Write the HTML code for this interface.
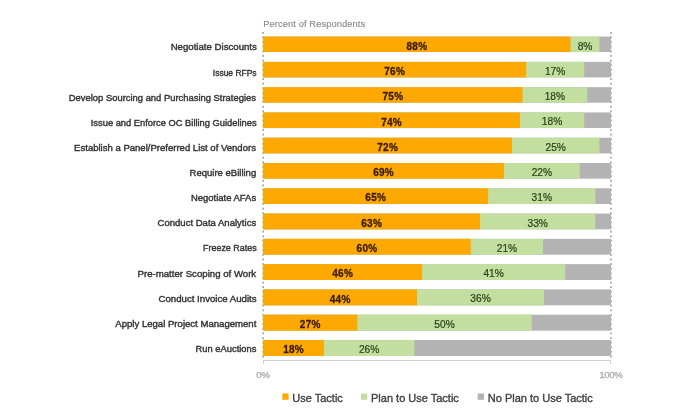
<!DOCTYPE html>
<html><head><meta charset="utf-8"><style>
html,body{margin:0;padding:0;background:#fff;}
body{width:692px;height:417px;position:relative;overflow:hidden;font-family:"Liberation Sans",sans-serif;}
#w{position:absolute;left:0;top:0;width:692px;height:417px;filter:blur(0.60px);}
.a{position:absolute;white-space:nowrap;}
svg{position:absolute;left:0;top:0;}
.lbl{position:absolute;white-space:nowrap;color:#333;-webkit-text-stroke:0.4px #333;font-size:9.60px;line-height:9.60px;transform-origin:100% 50%;text-align:right;}
.vb{position:absolute;white-space:nowrap;font-weight:bold;letter-spacing:0.3px;color:#3a1d00;-webkit-text-stroke:0.3px #3a1d00;font-size:10.00px;line-height:10.00px;text-align:center;width:60px;}
.vr{position:absolute;white-space:nowrap;color:#26421a;-webkit-text-stroke:0.2px #26421a;font-size:10.20px;line-height:10.20px;text-align:center;width:60px;}
.lg{position:absolute;white-space:nowrap;color:#404040;-webkit-text-stroke:0.35px #404040;font-size:11px;line-height:11px;}
</style></head><body><div id="w">

<svg width="692" height="417">
<line x1="263.1" y1="31.95" x2="263.1" y2="360" stroke="#6f6f6f" stroke-width="1.1" stroke-dasharray="1.7,2.925"/>
<line x1="611.0" y1="31.95" x2="611.0" y2="360" stroke="#6f6f6f" stroke-width="1.1" stroke-dasharray="1.7,2.925"/>
<rect x="263.00" y="36.60" width="348.00" height="15.45" fill="#B3B3B3"/>
<rect x="263.00" y="36.60" width="336.40" height="15.45" fill="#C3DFA0"/>
<rect x="263.00" y="36.60" width="307.60" height="15.45" fill="#FEA802"/>
<rect x="263.00" y="61.88" width="348.00" height="15.50" fill="#B3B3B3"/>
<rect x="263.00" y="61.88" width="321.20" height="15.50" fill="#C3DFA0"/>
<rect x="263.00" y="61.88" width="263.10" height="15.50" fill="#FEA802"/>
<rect x="263.00" y="87.16" width="348.00" height="15.55" fill="#B3B3B3"/>
<rect x="263.00" y="87.16" width="324.20" height="15.55" fill="#C3DFA0"/>
<rect x="263.00" y="87.16" width="259.50" height="15.55" fill="#FEA802"/>
<rect x="263.00" y="112.44" width="348.00" height="15.60" fill="#B3B3B3"/>
<rect x="263.00" y="112.44" width="321.20" height="15.60" fill="#C3DFA0"/>
<rect x="263.00" y="112.44" width="256.90" height="15.60" fill="#FEA802"/>
<rect x="263.00" y="137.72" width="348.00" height="15.65" fill="#B3B3B3"/>
<rect x="263.00" y="137.72" width="336.40" height="15.65" fill="#C3DFA0"/>
<rect x="263.00" y="137.72" width="249.00" height="15.65" fill="#FEA802"/>
<rect x="263.00" y="163.00" width="348.00" height="15.70" fill="#B3B3B3"/>
<rect x="263.00" y="163.00" width="316.80" height="15.70" fill="#C3DFA0"/>
<rect x="263.00" y="163.00" width="240.90" height="15.70" fill="#FEA802"/>
<rect x="263.00" y="188.28" width="348.00" height="15.75" fill="#B3B3B3"/>
<rect x="263.00" y="188.28" width="332.30" height="15.75" fill="#C3DFA0"/>
<rect x="263.00" y="188.28" width="225.20" height="15.75" fill="#FEA802"/>
<rect x="263.00" y="213.56" width="348.00" height="15.80" fill="#B3B3B3"/>
<rect x="263.00" y="213.56" width="332.30" height="15.80" fill="#C3DFA0"/>
<rect x="263.00" y="213.56" width="217.10" height="15.80" fill="#FEA802"/>
<rect x="263.00" y="238.84" width="348.00" height="15.85" fill="#B3B3B3"/>
<rect x="263.00" y="238.84" width="280.10" height="15.85" fill="#C3DFA0"/>
<rect x="263.00" y="238.84" width="207.80" height="15.85" fill="#FEA802"/>
<rect x="263.00" y="264.12" width="348.00" height="15.90" fill="#B3B3B3"/>
<rect x="263.00" y="264.12" width="302.20" height="15.90" fill="#C3DFA0"/>
<rect x="263.00" y="264.12" width="159.10" height="15.90" fill="#FEA802"/>
<rect x="263.00" y="289.40" width="348.00" height="15.95" fill="#B3B3B3"/>
<rect x="263.00" y="289.40" width="281.00" height="15.95" fill="#C3DFA0"/>
<rect x="263.00" y="289.40" width="154.00" height="15.95" fill="#FEA802"/>
<rect x="263.00" y="314.68" width="348.00" height="16.00" fill="#B3B3B3"/>
<rect x="263.00" y="314.68" width="268.80" height="16.00" fill="#C3DFA0"/>
<rect x="263.00" y="314.68" width="94.30" height="16.00" fill="#FEA802"/>
<rect x="263.00" y="339.96" width="348.00" height="16.05" fill="#B3B3B3"/>
<rect x="263.00" y="339.96" width="151.30" height="16.05" fill="#C3DFA0"/>
<rect x="263.00" y="339.96" width="60.90" height="16.05" fill="#FEA802"/>
<rect x="282.3" y="393.5" width="6.3" height="6.3" fill="#FEA802"/>
<rect x="361.0" y="393.5" width="6.3" height="6.3" fill="#C3DFA0"/>
<rect x="477.7" y="393.5" width="6.3" height="6.3" fill="#B3B3B3"/>
<line x1="263" y1="360.5" x2="611" y2="360.5" stroke="#d0d0d0" stroke-width="1"/>
<line x1="263.5" y1="360" x2="263.5" y2="364" stroke="#d0d0d0" stroke-width="1"/>
<line x1="610.5" y1="360" x2="610.5" y2="364" stroke="#d0d0d0" stroke-width="1"/>
</svg>
<div class="a" style="left:263.3px;top:19.53px;font-size:9.3px;line-height:9.3px;letter-spacing:0.1px;color:#8c8c8c;-webkit-text-stroke:0.15px #8c8c8c;">Percent of Respondents</div>
<div class="lbl" style="right:435.60px;top:42.37px;transform:scaleX(1.004)">Negotiate Discounts</div>
<div class="vb" style="left:386.95px;top:41.73px">88%</div>
<div class="vr" style="left:555.00px;top:41.57px">8%</div>
<div class="lbl" style="right:435.60px;top:67.50px;transform:scaleX(0.883)">Issue RFPs</div>
<div class="vb" style="left:364.70px;top:67.02px">76%</div>
<div class="vr" style="left:525.15px;top:66.85px">17%</div>
<div class="lbl" style="right:435.60px;top:92.63px;transform:scaleX(0.980)">Develop Sourcing and Purchasing Strategies</div>
<div class="vb" style="left:362.90px;top:92.29px">75%</div>
<div class="vr" style="left:524.85px;top:92.13px">18%</div>
<div class="lbl" style="right:435.60px;top:117.76px;transform:scaleX(0.972)">Issue and Enforce OC Billing Guidelines</div>
<div class="vb" style="left:361.60px;top:117.57px">74%</div>
<div class="vr" style="left:522.05px;top:117.41px">18%</div>
<div class="lbl" style="right:435.60px;top:142.89px;transform:scaleX(0.994)">Establish a Panel/Preferred List of Vendors</div>
<div class="vb" style="left:357.65px;top:142.85px">72%</div>
<div class="vr" style="left:525.70px;top:142.69px">25%</div>
<div class="lbl" style="right:435.60px;top:168.02px;transform:scaleX(0.992)">Require eBilling</div>
<div class="vb" style="left:353.60px;top:168.13px">69%</div>
<div class="vr" style="left:511.85px;top:167.97px">22%</div>
<div class="lbl" style="right:435.60px;top:193.15px;transform:scaleX(0.985)">Negotiate AFAs</div>
<div class="vb" style="left:345.75px;top:193.41px">65%</div>
<div class="vr" style="left:511.75px;top:193.25px">31%</div>
<div class="lbl" style="right:435.60px;top:218.28px;transform:scaleX(0.995)">Conduct Data Analytics</div>
<div class="vb" style="left:341.70px;top:218.69px">63%</div>
<div class="vr" style="left:507.70px;top:218.53px">33%</div>
<div class="lbl" style="right:435.60px;top:243.41px;transform:scaleX(0.930)">Freeze Rates</div>
<div class="vb" style="left:337.05px;top:243.97px">60%</div>
<div class="vr" style="left:476.95px;top:243.81px">21%</div>
<div class="lbl" style="right:435.60px;top:268.54px;transform:scaleX(1.004)">Pre-matter Scoping of Work</div>
<div class="vb" style="left:312.70px;top:269.26px">46%</div>
<div class="vr" style="left:463.65px;top:269.09px">41%</div>
<div class="lbl" style="right:435.60px;top:293.67px;transform:scaleX(1.005)">Conduct Invoice Audits</div>
<div class="vb" style="left:310.15px;top:294.54px">44%</div>
<div class="vr" style="left:450.50px;top:294.37px">36%</div>
<div class="lbl" style="right:435.60px;top:318.80px;transform:scaleX(0.998)">Apply Legal Project Management</div>
<div class="vb" style="left:280.30px;top:319.82px">27%</div>
<div class="vr" style="left:414.55px;top:319.65px">50%</div>
<div class="lbl" style="right:435.60px;top:343.93px;transform:scaleX(0.975)">Run eAuctions</div>
<div class="vb" style="left:263.60px;top:345.10px">18%</div>
<div class="vr" style="left:339.10px;top:344.93px">26%</div>
<div class="a" style="left:233px;width:60px;text-align:center;top:370.30px;font-size:9.8px;line-height:9.8px;letter-spacing:-0.25px;color:#a6a6a6;-webkit-text-stroke:0.25px #a6a6a6;">0%</div>
<div class="a" style="left:581px;width:60px;text-align:center;top:370.30px;font-size:9.8px;line-height:9.8px;letter-spacing:-0.45px;color:#a6a6a6;-webkit-text-stroke:0.25px #a6a6a6;">100%</div>
<div class="lg" style="left:292.30px;top:392.69px">Use Tactic</div>
<div class="lg" style="left:371.00px;top:392.69px">Plan to Use Tactic</div>
<div class="lg" style="left:487.80px;top:392.69px">No Plan to Use Tactic</div>
</div></body></html>
